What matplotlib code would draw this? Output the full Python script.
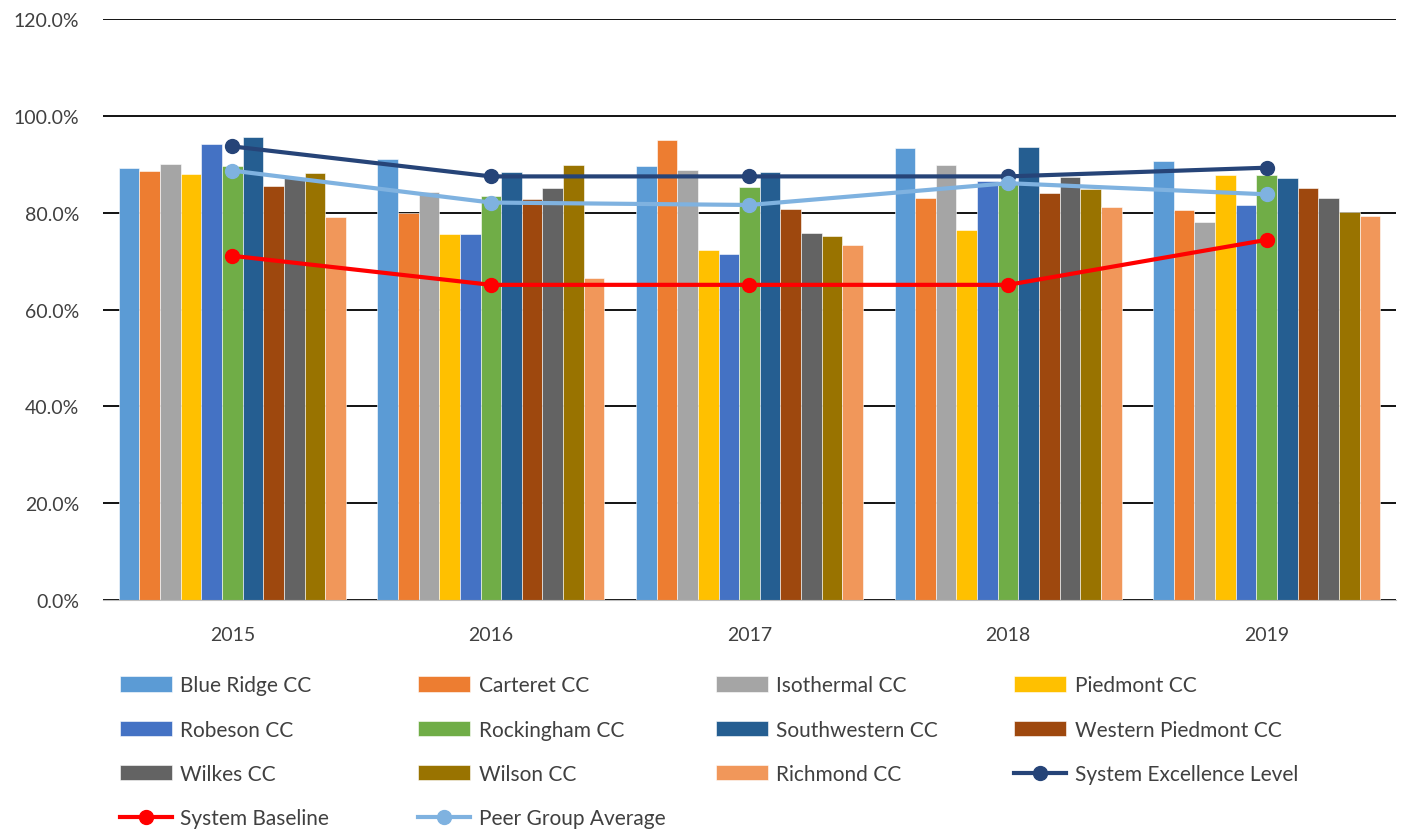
import matplotlib.pyplot as plt
import numpy as np
from matplotlib.ticker import FuncFormatter

plt.rcParams['font.family'] = ['Lato', 'DejaVu Sans']

years = ['2015', '2016', '2017', '2018', '2019']

colleges = ['Blue Ridge CC', 'Carteret CC', 'Isothermal CC', 'Piedmont CC',
            'Robeson CC', 'Rockingham CC', 'Southwestern CC', 'Western Piedmont CC',
            'Wilkes CC', 'Wilson CC', 'Richmond CC']

blue_ridge   = [89.2, 91.1, 89.6, 93.4, 90.7]
carteret     = [88.7, 80.0, 95.0, 83.0, 80.5]
isothermal   = [90.1, 84.3, 88.8, 89.9, 78.0]
piedmont     = [88.0, 75.5, 72.3, 76.4, 87.8]
robeson      = [94.1, 75.7, 71.5, 86.6, 81.6]
rockingham   = [89.6, 83.4, 85.3, 86.4, 87.8]
southwestern = [95.7, 88.5, 88.5, 93.6, 87.2]
w_piedmont   = [85.6, 82.8, 80.8, 84.0, 85.2]
wilkes       = [87.1, 85.2, 75.9, 87.4, 83.0]
wilson       = [88.3, 89.9, 75.2, 85.0, 80.1]
richmond     = [79.2, 66.6, 73.3, 81.2, 79.4]

excellence = [93.7, 87.5, 87.5, 87.5, 89.3]
baseline   = [71.1, 65.1, 65.1, 65.1, 74.4]
peer_avg   = [88.7, 82.1, 81.6, 86.1, 83.8]

bar_data = [blue_ridge, carteret, isothermal, piedmont, robeson, rockingham,
            southwestern, w_piedmont, wilkes, wilson, richmond]
bar_colors = ['#5B9BD5', '#ED7D31', '#A5A5A5', '#FFC000', '#4472C4', '#70AD47',
              '#255E91', '#9E480E', '#636363', '#997300', '#F1975A']

fig = plt.figure(figsize=(14.03, 8.37), dpi=100)
ax = fig.add_axes([0.0734, 0.282, 0.9216, 0.694])

x = np.arange(len(years))
n = len(bar_data)
bw = 0.0798
handles = []
for i, (vals, col, name) in enumerate(zip(bar_data, bar_colors, colleges)):
    offs = (i - (n - 1) / 2) * bw
    h = ax.bar(x + offs, vals, bw, color=col, edgecolor='white', linewidth=0.4,
               label=name, zorder=2)
    handles.append(h)

h_exc, = ax.plot(x, excellence, color='#264478', lw=3, marker='o', ms=10,
                 label='System Excellence Level', zorder=4)
h_base, = ax.plot(x, baseline, color='#FF0000', lw=3, marker='o', ms=10,
                  label='System Baseline', zorder=4)
h_peer, = ax.plot(x, peer_avg, color='#7FB2E0', lw=3, marker='o', ms=10,
                  label='Peer Group Average', zorder=4)
handles += [h_exc, h_base, h_peer]

ax.set_xlim(-0.5, len(years) - 0.5)
ax.set_ylim(0, 120)
ax.set_yticks(np.arange(0, 121, 20))
ax.yaxis.set_major_formatter(FuncFormatter(lambda v, p: '%.1f%%' % v))
ax.yaxis.grid(True, color='black', linewidth=1.3, zorder=0)
ax.set_axisbelow(True)
ax.set_xticks(x)
ax.set_xticklabels(years)
ax.tick_params(axis='both', length=0, labelsize=14, colors='#404040')
ax.tick_params(axis='y', pad=17)
ax.tick_params(axis='x', pad=19)
for s in ['top', 'right', 'left']:
    ax.spines[s].set_visible(False)
ax.spines['bottom'].set_color('#BFBFBF')

# legend is laid out row by row, 4 per row, fixed column positions
col_x = [0.0855, 0.298, 0.510, 0.723]
for c in range(4):
    hs = handles[c::4]
    leg = fig.legend(hs, [h.get_label() for h in hs], ncol=1,
                     loc='upper left', bbox_to_anchor=(col_x[c], 0.192),
                     frameon=False, fontsize=15, labelcolor='#404040',
                     handlelength=2.5, handleheight=0.75, handletextpad=0.4,
                     labelspacing=1.17, borderaxespad=0, borderpad=0)

fig.savefig('out.png', dpi=100)
